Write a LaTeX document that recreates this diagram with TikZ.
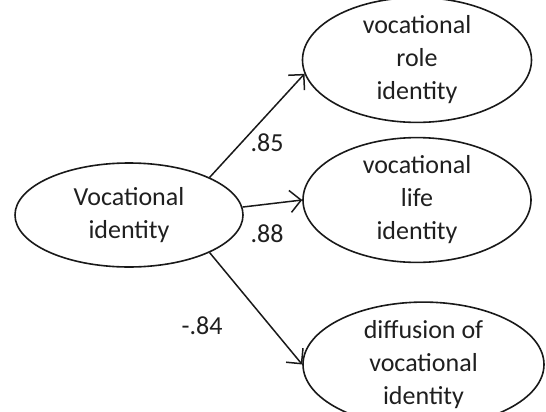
\documentclass[tikz,border=0pt]{standalone}
\usepackage{fontspec}
\setmainfont{Carlito}
\usetikzlibrary{shapes.geometric,arrows.meta}
\begin{document}
\begin{tikzpicture}[x=1pt,y=-1pt,
  latent/.style={draw=black!90, line width=1.6pt, ellipse, inner sep=0pt,
    align=center, font=\fontsize{26}{33}\selectfont, text=black!88},
  path/.style={draw=black!90, line width=1.5pt, -{Straight Barb[length=11pt,width=22pt,line width=1.5pt]}},
  coef/.style={font=\fontsize{26}{33}\selectfont, text=black!88, inner sep=0pt}]
\useasboundingbox (0,0) rectangle (546,412);
\node[latent, minimum width=228pt, minimum height=104pt] (vi) at (129,215) {Vocational\\identity};
\node[latent, minimum width=229pt, minimum height=100pt] (vr) at (417,60) {vocational\\role\\identity};
\node[latent, minimum width=228pt, minimum height=104pt] (vl) at (417,200) {vocational\\life\\identity};
\node[latent, minimum width=241pt, minimum height=103pt] (dv) at (423.5,364.5) {diffusion of\\vocational\\identity};
\draw[path] (vi.25) -- (vr.187);
\draw[path] (vi.4) -- (vl.west);
\draw[path] (vi.-25) -- (dv.west);
\node[coef] (c1) at (267,143) {.85};
\node[coef] (c2) at (267,234) {.88};
\node[coef] (c3) at (202,326) {-.84};
\end{tikzpicture}
\end{document}
